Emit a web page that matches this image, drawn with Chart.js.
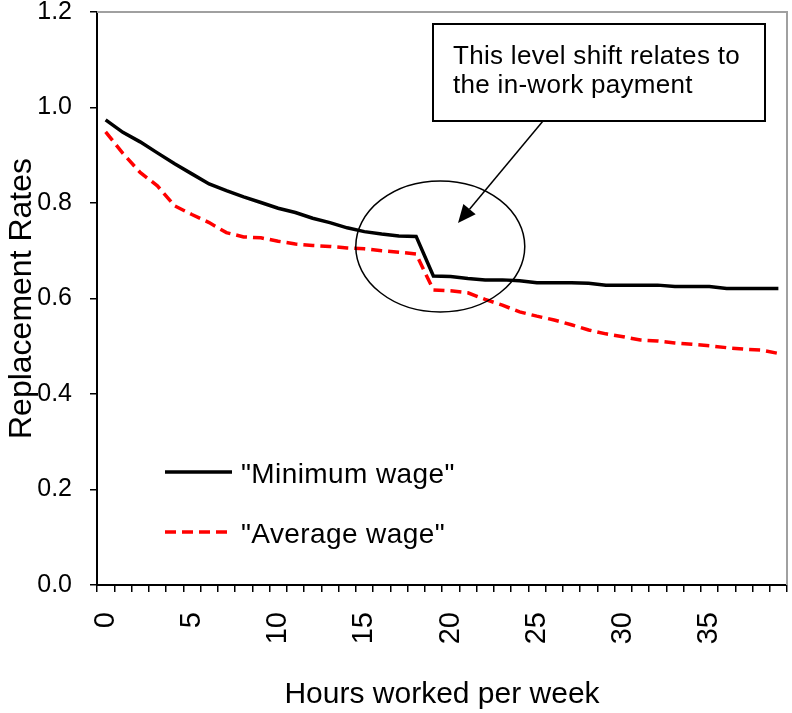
<!DOCTYPE html>
<html>
<head>
<meta charset="utf-8">
<script src="https://cdn.jsdelivr.net/npm/chart.js@4/dist/chart.umd.min.js"></script>
<style>
  html, body { margin: 0; padding: 0; background: #fff; }
  #c { display: block; }
</style>
</head>
<body>
<canvas id="c" width="792" height="713"></canvas>
<script>
// horas trabajadas por semana (categorias)
const hours = [];
for (let h = 0; h < 40; h++) hours.push(String(h));

// etiquetas visibles del eje x (cada 5 horas)
const xTickLabels = ['0', '5', '10', '15', '20', '25', '30', '35'];
const yTicks = [0, 0.2, 0.4, 0.6, 0.8, 1.0, 1.2];

const minimumWage = [
  0.974, 0.948, 0.928, 0.905, 0.882, 0.861, 0.840, 0.826, 0.813, 0.801,
  0.789, 0.780, 0.768, 0.759, 0.748, 0.740, 0.735, 0.731, 0.730, 0.647,
  0.646, 0.642, 0.639, 0.639, 0.637, 0.633, 0.633, 0.633, 0.632, 0.628,
  0.628, 0.628, 0.628, 0.625, 0.625, 0.625, 0.621, 0.621, 0.621, 0.621
];
const averageWage = [
  0.949, 0.904, 0.864, 0.836, 0.794, 0.776, 0.759, 0.738, 0.729, 0.727,
  0.720, 0.714, 0.711, 0.709, 0.706, 0.704, 0.700, 0.697, 0.693, 0.618,
  0.616, 0.612, 0.598, 0.586, 0.572, 0.563, 0.555, 0.545, 0.534, 0.526,
  0.520, 0.513, 0.511, 0.507, 0.504, 0.501, 0.497, 0.494, 0.492, 0.485
];

const FONT = "'Liberation Sans', Arial, sans-serif";

// borde gris del area del grafico (arriba y derecha)
const plotFrame = {
  id: 'plotFrame',
  beforeDatasetsDraw(chart) {
    const {ctx, chartArea: a} = chart;
    ctx.save();
    ctx.strokeStyle = '#a0a0a0';
    ctx.lineWidth = 2;
    ctx.beginPath();
    ctx.moveTo(a.left, a.top);
    ctx.lineTo(a.right, a.top);
    ctx.lineTo(a.right, a.bottom);
    ctx.stroke();
    ctx.restore();
  }
};

// anotaciones: elipse, flecha, cuadro de texto y leyenda
const notes = {
  id: 'notes',
  afterDraw(chart) {
    const {ctx, scales: {x, y}} = chart;
    ctx.save();

    // elipse alrededor del salto
    const cx = x.getPixelForValue(19.4), cy = y.getPixelForValue(0.709);
    ctx.strokeStyle = '#000';
    ctx.lineWidth = 1.5;
    ctx.beginPath();
    ctx.ellipse(cx, cy, 84.5, 65.5, 0, 0, Math.PI * 2);
    ctx.stroke();

    // cuadro de texto
    const bx = 433, by = 24, bw = 332, bh = 97;
    ctx.fillStyle = '#fff';
    ctx.fillRect(bx, by, bw, bh);
    ctx.lineWidth = 2;
    ctx.strokeRect(bx, by, bw, bh);
    ctx.fillStyle = '#000';
    ctx.font = '26px ' + FONT;
    ctx.textBaseline = 'alphabetic';
    ctx.textAlign = 'left';
    if ('letterSpacing' in ctx) ctx.letterSpacing = '0.3px';
    ctx.fillText('This level shift relates to', bx + 20, by + 40);
    ctx.fillText('the in-work payment', bx + 20, by + 69);
    if ('letterSpacing' in ctx) ctx.letterSpacing = '0px';

    // flecha
    const sx = 543, sy = by + bh, tx = 458, ty = 223;
    const ang = Math.atan2(ty - sy, tx - sx);
    const hl = 18, hw = 8;
    const bxp = tx - hl * Math.cos(ang), byp = ty - hl * Math.sin(ang);
    ctx.lineWidth = 1.5;
    ctx.beginPath();
    ctx.moveTo(sx, sy);
    ctx.lineTo(bxp, byp);
    ctx.stroke();
    ctx.beginPath();
    ctx.moveTo(tx, ty);
    ctx.lineTo(bxp + hw * Math.sin(ang), byp - hw * Math.cos(ang));
    ctx.lineTo(bxp - hw * Math.sin(ang), byp + hw * Math.cos(ang));
    ctx.closePath();
    ctx.fill();

    // leyenda
    const rows = [472, 532];
    chart.data.datasets.forEach((ds, i) => {
      const ly = rows[i];
      ctx.strokeStyle = ds.borderColor;
      ctx.lineWidth = ds.borderWidth;
      ctx.setLineDash(ds.borderDash || []);
      ctx.beginPath();
      ctx.moveTo(165, ly);
      ctx.lineTo(232, ly);
      ctx.stroke();
      ctx.setLineDash([]);
      ctx.fillStyle = '#000';
      ctx.font = '28px ' + FONT;
      if ('letterSpacing' in ctx) ctx.letterSpacing = '0.4px';
      ctx.fillText(ds.label, 241, ly + 10.5);
      if ('letterSpacing' in ctx) ctx.letterSpacing = '0px';
    });

    ctx.restore();
  }
};

new Chart(document.getElementById('c'), {
  type: 'line',
  data: {
    labels: hours,
    datasets: [
      {
        label: '"Minimum wage"',
        data: minimumWage,
        borderColor: '#000000',
        borderWidth: 3.5,
        pointRadius: 0,
        tension: 0,
        fill: false
      },
      {
        label: '"Average wage"',
        data: averageWage,
        borderColor: '#ff0000',
        borderWidth: 3.5,
        borderDash: [11, 6],
        pointRadius: 0,
        tension: 0,
        fill: false
      }
    ]
  },
  options: {
    responsive: false,
    animation: false,
    layout: { padding: { left: 0, right: 5, top: 12, bottom: 0 } },
    plugins: {
      legend: { display: false },
      tooltip: { enabled: false }
    },
    scales: {
      x: {
        offset: true,
        grid: {
          display: true,
          offset: true,
          drawOnChartArea: false,
          drawTicks: true,
          tickLength: 7,
          color: '#000',
          lineWidth: 1.5
        },
        border: { color: '#000', width: 2 },
        ticks: {
          autoSkip: false,
          minRotation: 90,
          maxRotation: 90,
          padding: 20,
          color: '#000',
          font: { size: 29, family: FONT },
          callback: (v, i) => xTickLabels.includes(hours[i]) ? hours[i] : ''
        },
        title: {
          display: true,
          text: 'Hours worked per week',
          color: '#000',
          font: { size: 30, family: FONT },
          padding: { top: 0, bottom: 0 }
        },
        afterFit: s => {
          s.height = 128;
          s.paddingLeft = 0;
          s.paddingRight = 0;
        }
      },
      y: {
        min: 0,
        max: 1.2,
        grid: {
          display: true,
          drawOnChartArea: false,
          drawTicks: true,
          tickLength: 7,
          color: '#000',
          lineWidth: 1.5
        },
        border: { color: '#000', width: 2 },
        afterBuildTicks: s => { s.ticks = yTicks.map(v => ({ value: v })); },
        ticks: {
          padding: 18,
          color: '#000',
          font: { size: 25, family: FONT },
          callback: v => Number(v).toFixed(1)
        },
        title: {
          display: true,
          text: 'Replacement Rates',
          color: '#000',
          font: { size: 32, family: FONT },
          padding: { top: 3, bottom: 0 }
        },
        afterFit: s => {
          s.width = 97;
          s.paddingTop = 0;
          s.paddingBottom = 0;
        }
      }
    }
  },
  plugins: [plotFrame, notes]
});
</script>
</body>
</html>
